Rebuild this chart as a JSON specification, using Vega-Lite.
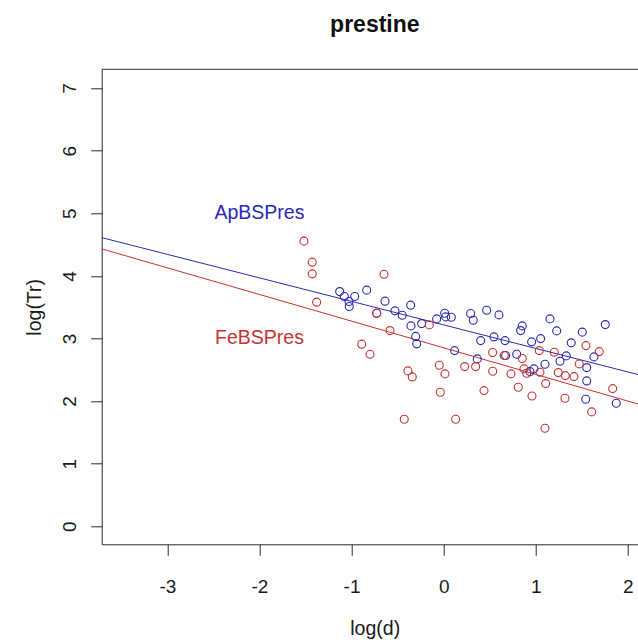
{
  "$schema": "https://vega.github.io/schema/vega-lite/v6.json",
  "width": 536.3,
  "height": 475,
  "autosize": {"type": "none"},
  "padding": {"left": 101.7, "top": 69.3, "right": 0, "bottom": 95.7},
  "background": "white",
  "title": {
    "text": "prestine",
    "font": "Liberation Sans",
    "fontSize": 23,
    "fontWeight": "bold",
    "color": "#111111",
    "anchor": "middle",
    "frame": "group",
    "baseline": "alphabetic",
    "offset": 14,
    "dx": 5
  },
  "config": {
    "view": {"stroke": null},
    "font": "Liberation Sans",
    "axis": {
      "grid": false,
      "domainColor": "#2b2b2b",
      "tickColor": "#2b2b2b",
      "labelColor": "#1a1a1a",
      "titleColor": "#1a1a1a",
      "labelFont": "Liberation Sans",
      "titleFont": "Liberation Sans",
      "labelFontSize": 19,
      "titleFontSize": 19.5,
      "titleFontWeight": "normal",
      "tickSize": 11,
      "labelExpr": "'' + datum.value"
    }
  },
  "datasets": {
    "pts": [
      {"logd": -1.129, "logTr": 3.749, "series": "ApBSPres"},
      {"logd": -1.079, "logTr": 3.670, "series": "ApBSPres"},
      {"logd": -1.028, "logTr": 3.590, "series": "ApBSPres"},
      {"logd": -0.966, "logTr": 3.670, "series": "ApBSPres"},
      {"logd": -1.025, "logTr": 3.510, "series": "ApBSPres"},
      {"logd": -0.836, "logTr": 3.772, "series": "ApBSPres"},
      {"logd": -0.637, "logTr": 3.596, "series": "ApBSPres"},
      {"logd": -0.727, "logTr": 3.404, "series": "ApBSPres"},
      {"logd": -0.529, "logTr": 3.441, "series": "ApBSPres"},
      {"logd": -0.450, "logTr": 3.372, "series": "ApBSPres"},
      {"logd": -0.358, "logTr": 3.532, "series": "ApBSPres"},
      {"logd": -0.355, "logTr": 3.201, "series": "ApBSPres"},
      {"logd": -0.304, "logTr": 3.033, "series": "ApBSPres"},
      {"logd": -0.293, "logTr": 2.914, "series": "ApBSPres"},
      {"logd": -0.239, "logTr": 3.238, "series": "ApBSPres"},
      {"logd": -0.076, "logTr": 3.313, "series": "ApBSPres"},
      {"logd": 0.011, "logTr": 3.404, "series": "ApBSPres"},
      {"logd": 0.022, "logTr": 3.345, "series": "ApBSPres"},
      {"logd": 0.083, "logTr": 3.340, "series": "ApBSPres"},
      {"logd": 0.119, "logTr": 2.806, "series": "ApBSPres"},
      {"logd": 0.293, "logTr": 3.398, "series": "ApBSPres"},
      {"logd": 0.321, "logTr": 3.292, "series": "ApBSPres"},
      {"logd": 0.467, "logTr": 3.452, "series": "ApBSPres"},
      {"logd": 0.600, "logTr": 3.377, "series": "ApBSPres"},
      {"logd": 0.402, "logTr": 2.966, "series": "ApBSPres"},
      {"logd": 0.546, "logTr": 3.025, "series": "ApBSPres"},
      {"logd": 0.666, "logTr": 2.966, "series": "ApBSPres"},
      {"logd": 0.853, "logTr": 3.201, "series": "ApBSPres"},
      {"logd": 0.836, "logTr": 3.126, "series": "ApBSPres"},
      {"logd": 0.955, "logTr": 2.946, "series": "ApBSPres"},
      {"logd": 1.053, "logTr": 2.998, "series": "ApBSPres"},
      {"logd": 1.154, "logTr": 3.313, "series": "ApBSPres"},
      {"logd": 1.227, "logTr": 3.121, "series": "ApBSPres"},
      {"logd": 1.505, "logTr": 3.101, "series": "ApBSPres"},
      {"logd": 1.755, "logTr": 3.222, "series": "ApBSPres"},
      {"logd": 0.365, "logTr": 2.674, "series": "ApBSPres"},
      {"logd": 0.673, "logTr": 2.727, "series": "ApBSPres"},
      {"logd": 0.793, "logTr": 2.749, "series": "ApBSPres"},
      {"logd": 1.100, "logTr": 2.589, "series": "ApBSPres"},
      {"logd": 1.263, "logTr": 2.637, "series": "ApBSPres"},
      {"logd": 1.331, "logTr": 2.722, "series": "ApBSPres"},
      {"logd": 1.385, "logTr": 2.930, "series": "ApBSPres"},
      {"logd": 1.632, "logTr": 2.706, "series": "ApBSPres"},
      {"logd": 1.553, "logTr": 2.535, "series": "ApBSPres"},
      {"logd": 0.980, "logTr": 2.514, "series": "ApBSPres"},
      {"logd": 0.937, "logTr": 2.471, "series": "ApBSPres"},
      {"logd": 1.553, "logTr": 2.322, "series": "ApBSPres"},
      {"logd": 1.542, "logTr": 2.030, "series": "ApBSPres"},
      {"logd": 1.874, "logTr": 1.966, "series": "ApBSPres"},
      {"logd": -1.517, "logTr": 4.555, "series": "FeBSPres"},
      {"logd": -1.427, "logTr": 4.219, "series": "FeBSPres"},
      {"logd": -1.427, "logTr": 4.032, "series": "FeBSPres"},
      {"logd": -1.379, "logTr": 3.580, "series": "FeBSPres"},
      {"logd": -0.648, "logTr": 4.027, "series": "FeBSPres"},
      {"logd": -0.727, "logTr": 3.404, "series": "FeBSPres"},
      {"logd": -0.583, "logTr": 3.126, "series": "FeBSPres"},
      {"logd": -0.156, "logTr": 3.217, "series": "FeBSPres"},
      {"logd": -0.890, "logTr": 2.909, "series": "FeBSPres"},
      {"logd": -0.800, "logTr": 2.749, "series": "FeBSPres"},
      {"logd": -0.388, "logTr": 2.482, "series": "FeBSPres"},
      {"logd": -0.341, "logTr": 2.386, "series": "FeBSPres"},
      {"logd": -0.048, "logTr": 2.573, "series": "FeBSPres"},
      {"logd": 0.014, "logTr": 2.434, "series": "FeBSPres"},
      {"logd": -0.037, "logTr": 2.142, "series": "FeBSPres"},
      {"logd": -0.428, "logTr": 1.710, "series": "FeBSPres"},
      {"logd": 0.130, "logTr": 1.710, "series": "FeBSPres"},
      {"logd": 0.532, "logTr": 2.775, "series": "FeBSPres"},
      {"logd": 0.658, "logTr": 2.727, "series": "FeBSPres"},
      {"logd": 0.853, "logTr": 2.679, "series": "FeBSPres"},
      {"logd": 1.038, "logTr": 2.806, "series": "FeBSPres"},
      {"logd": 1.201, "logTr": 2.781, "series": "FeBSPres"},
      {"logd": 1.545, "logTr": 2.886, "series": "FeBSPres"},
      {"logd": 1.689, "logTr": 2.790, "series": "FeBSPres"},
      {"logd": 0.228, "logTr": 2.551, "series": "FeBSPres"},
      {"logd": 0.347, "logTr": 2.551, "series": "FeBSPres"},
      {"logd": 0.532, "logTr": 2.477, "series": "FeBSPres"},
      {"logd": 0.731, "logTr": 2.434, "series": "FeBSPres"},
      {"logd": 0.872, "logTr": 2.514, "series": "FeBSPres"},
      {"logd": 0.901, "logTr": 2.445, "series": "FeBSPres"},
      {"logd": 1.046, "logTr": 2.461, "series": "FeBSPres"},
      {"logd": 1.244, "logTr": 2.455, "series": "FeBSPres"},
      {"logd": 1.320, "logTr": 2.407, "series": "FeBSPres"},
      {"logd": 1.415, "logTr": 2.391, "series": "FeBSPres"},
      {"logd": 1.472, "logTr": 2.594, "series": "FeBSPres"},
      {"logd": 1.107, "logTr": 2.279, "series": "FeBSPres"},
      {"logd": 0.810, "logTr": 2.222, "series": "FeBSPres"},
      {"logd": 0.438, "logTr": 2.167, "series": "FeBSPres"},
      {"logd": 0.959, "logTr": 2.082, "series": "FeBSPres"},
      {"logd": 1.317, "logTr": 2.046, "series": "FeBSPres"},
      {"logd": 1.835, "logTr": 2.199, "series": "FeBSPres"},
      {"logd": 1.607, "logTr": 1.827, "series": "FeBSPres"},
      {"logd": 1.100, "logTr": 1.566, "series": "FeBSPres"}
    ],
    "fits": [
      {"logd": -3.8, "logTr": 4.644, "series": "ApBSPres"},
      {"logd": 2.3, "logTr": 2.353, "series": "ApBSPres"},
      {"logd": -3.8, "logTr": 4.469, "series": "FeBSPres"},
      {"logd": 2.3, "logTr": 1.872, "series": "FeBSPres"}
    ],
    "labels": [
      {"logd": -2, "logTr": 5, "series": "ApBSPres"},
      {"logd": -2, "logTr": 3, "series": "FeBSPres"}
    ],
    "frame": [
      {"top": 7.3}
    ]
  },
  "layer": [
    {
      "data": {"name": "fits"},
      "mark": {"type": "line", "strokeWidth": 1, "clip": true},
      "encoding": {
        "x": {
          "field": "logd",
          "type": "quantitative",
          "scale": {"domain": [-3.713, 2.11], "nice": false, "zero": false},
          "axis": {
            "values": [-3, -2, -1, 0, 1, 2],
            "title": "log(d)",
            "labelBaseline": "middle",
            "labelPadding": 31,
            "titleX": 273,
            "titleY": 84,
            "titleBaseline": "middle",
            "titleAlign": "center"
          }
        },
        "y": {
          "field": "logTr",
          "type": "quantitative",
          "scale": {"domain": [-0.288, 7.3], "nice": false, "zero": false},
          "axis": {
            "values": [0, 1, 2, 3, 4, 5, 6, 7],
            "title": "log(Tr)",
            "labelAngle": -90,
            "labelAlign": "center",
            "labelBaseline": "middle",
            "labelPadding": 21,
            "titleX": -67,
            "titleY": 237.5,
            "titleAngle": -90,
            "titleAlign": "center",
            "titleBaseline": "middle"
          }
        },
        "color": {
          "field": "series",
          "type": "nominal",
          "scale": {"domain": ["ApBSPres", "FeBSPres"], "range": ["#2a2ab4", "#c93232"]},
          "legend": null
        },
        "detail": {"field": "series"}
      }
    },
    {
      "data": {"name": "pts"},
      "mark": {"type": "point", "shape": "circle", "filled": false, "size": 64, "strokeWidth": 1.1, "opacity": 1},
      "encoding": {
        "x": {"field": "logd", "type": "quantitative"},
        "y": {"field": "logTr", "type": "quantitative"},
        "color": {"field": "series", "type": "nominal"}
      }
    },
    {
      "data": {"name": "labels"},
      "mark": {"type": "text", "fontSize": 19.5, "font": "Liberation Sans", "align": "center", "baseline": "middle"},
      "encoding": {
        "x": {"field": "logd", "type": "quantitative"},
        "y": {"field": "logTr", "type": "quantitative"},
        "text": {"field": "series"},
        "color": {"field": "series", "type": "nominal"}
      }
    },
    {
      "data": {"name": "frame"},
      "mark": {"type": "rule", "color": "#2b2b2b", "strokeWidth": 1},
      "encoding": {
        "y": {"field": "top", "type": "quantitative"}
      }
    }
  ]
}
